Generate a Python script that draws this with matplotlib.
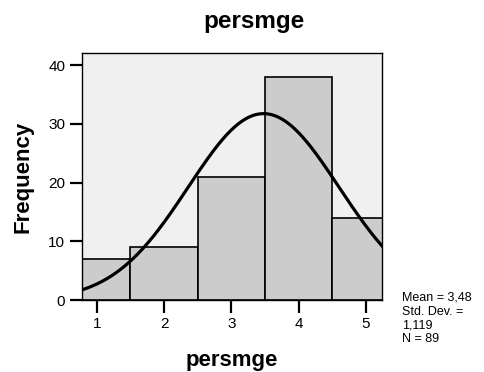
import numpy as np
import matplotlib
matplotlib.use('Agg')
import matplotlib.pyplot as plt

plt.rcParams['font.family'] = ['Liberation Sans', 'DejaVu Sans']

# data
values = [1, 2, 3, 4, 5]
counts = [7, 9, 21, 38, 14]
mean = 3.48
std = 1.119
n = 89
stats_text = "Mean = 3,48\nStd. Dev. =\n1,119\nN = 89"

fig = plt.figure(figsize=(4.84, 3.72), dpi=100)
ax = fig.add_axes([82/484, 1 - 300/372, 300/484, 247/372])
ax.set_facecolor('#f0f0f0')

ax.bar(values, counts, width=1.0, color='#cccccc', edgecolor='black', linewidth=1.2, zorder=2)

# normal curve scaled to counts (bin width 1)
xs = np.linspace(0.78, 5.24, 300)
ys = n / (std * np.sqrt(2 * np.pi)) * np.exp(-0.5 * ((xs - mean) / std) ** 2)
ax.plot(xs, ys, color='black', linewidth=2.3, zorder=3)

ax.set_xlim(0.78, 5.24)
ax.set_ylim(0, 42.05)
ax.set_xticks(values)
ax.set_yticks([0, 10, 20, 30, 40])
ax.tick_params(axis='both', direction='out', length=9, width=1.6, labelsize=11, pad=3)
for sp in ax.spines.values():
    sp.set_linewidth(1.0)

ax.set_xlabel('persmge', fontsize=16, fontweight='bold', labelpad=14)
ax.set_ylabel('Frequency', fontsize=16, fontweight='bold', labelpad=11)
fig.text(254/484, 1 - 28/372, 'persmge', fontsize=17.5, fontweight='bold',
         ha='center', va='baseline')

fig.text(402/484, 1 - 292/372, stats_text, fontsize=9, ha='left', va='top', linespacing=1.2)

fig.savefig('out.png', dpi=100)
